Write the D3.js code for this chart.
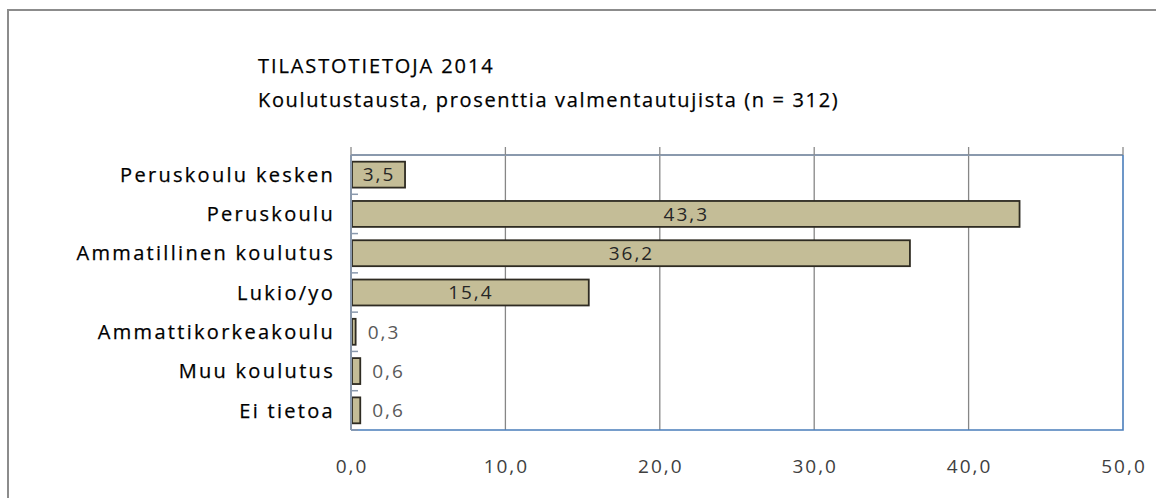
<!DOCTYPE html>
<html>
<head>
<meta charset="utf-8">
<script src="https://cdn.jsdelivr.net/npm/d3@7"></script>
<style>
  body { margin: 0; background: #fff; }
  text { font-family: "Open Sans", sans-serif; }
</style>
</head>
<body>
<div id="chart"></div>
<script>
// Chart data
const categories = ["Peruskoulu kesken", "Peruskoulu", "Ammatillinen koulutus", "Lukio/yo",
  "Ammattikorkeakoulu", "Muu koulutus", "Ei tietoa"];
const values = [3.5, 43.3, 36.2, 15.4, 0.3, 0.6, 0.6];
const xTicks = [0, 10, 20, 30, 40, 50];
const titleLines = ["TILASTOTIETOJA 2014", "Koulutustausta, prosenttia valmentautujista (n = 312)"];

const width = 1156, height = 498;
const margin = { top: 155, right: 33, bottom: 68, left: 351 };
const chartWidth = width - margin.left - margin.right;
const chartHeight = height - margin.top - margin.bottom;

const fmt = v => v.toFixed(1).replace(".", ",");

const svg = d3.select("#chart")
  .append("svg")
  .attr("width", width)
  .attr("height", height);

// outer frame
svg.append("path")
  .attr("d", `M8,${height + 2}V10H${width + 2}`)
  .attr("fill", "none")
  .attr("stroke", "#8c8c8c")
  .attr("stroke-width", 2);

// titles
svg.selectAll(".title")
  .data(titleLines)
  .enter().append("text")
  .attr("class", "title")
  .attr("x", 258)
  .attr("y", (d, i) => 73 + i * 34)
  .attr("font-size", 20)
  .attr("letter-spacing", (d, i) => i === 0 ? 1.9 : 1.65)
  .attr("fill", "#000")
  .attr("stroke", "#000")
  .attr("stroke-width", 0.25)
  .text(d => d);

const chart = svg.append("g")
  .attr("transform", `translate(${margin.left}, ${margin.top})`);

const xScale = d3.scaleLinear().domain([0, 50]).range([0, chartWidth]);
const yScale = d3.scaleBand().domain(categories).range([0, chartHeight]).paddingInner(0.34).paddingOuter(0.17);

// vertical gridlines
chart.append("g")
  .selectAll("line")
  .data(xTicks.slice(1, -1))
  .enter().append("line")
  .attr("x1", d => xScale(d)).attr("x2", d => xScale(d))
  .attr("y1", 0).attr("y2", chartHeight)
  .attr("stroke", "#868686")
  .attr("stroke-width", 1.3);

// top edge and small protruding ticks at top
chart.append("line")
  .attr("x1", 0).attr("x2", chartWidth).attr("y1", 0).attr("y2", 0)
  .attr("stroke", "#8a99ad").attr("stroke-width", 2);
chart.append("g")
  .selectAll("line")
  .data(xTicks)
  .enter().append("line")
  .attr("x1", d => xScale(d)).attr("x2", d => xScale(d))
  .attr("y1", -8).attr("y2", 0)
  .attr("stroke", "#8a8a8a").attr("stroke-width", 1.3);

// right and bottom edges
chart.append("path")
  .attr("d", `M${chartWidth},0V${chartHeight}H0`)
  .attr("fill", "none")
  .attr("stroke", "#4a7ebb")
  .attr("stroke-width", 1.6);

// bars
chart.append("g")
  .selectAll("rect")
  .data(values)
  .enter().append("rect")
  .attr("x", 1)
  .attr("y", (d, i) => yScale(categories[i]))
  .attr("width", d => Math.max(xScale(d) - 1, 2))
  .attr("height", yScale.bandwidth())
  .attr("fill", "#c4bd97")
  .attr("stroke", "#2e2b22")
  .attr("stroke-width", 1.8);

// value labels
chart.append("g")
  .selectAll("text")
  .data(values)
  .enter().append("text")
  .attr("x", d => d >= 2 ? xScale(d) / 2 + 1 : xScale(d) + 12)
  .attr("y", (d, i) => yScale(categories[i]) + yScale.bandwidth() / 2)
  .attr("dy", "0.36em")
  .attr("text-anchor", d => d >= 2 ? "middle" : "start")
  .attr("font-size", 19)
  .attr("letter-spacing", 2)
  .attr("fill", d => d >= 2 ? "#262626" : "#595959")
  .text(d => fmt(d));

// left axis with category ticks
const yAxis = chart.append("g");
yAxis.append("line")
  .attr("x1", 0).attr("x2", 0).attr("y1", 0).attr("y2", chartHeight)
  .attr("stroke", "#8a99ad").attr("stroke-width", 2);
const step = chartHeight / categories.length;
yAxis.selectAll(".ytick")
  .data(d3.range(categories.length + 1))
  .enter().append("line")
  .attr("class", "ytick")
  .attr("x1", 0).attr("x2", 7)
  .attr("y1", i => i * step).attr("y2", i => i * step)
  .attr("stroke", "#8a99ad").attr("stroke-width", 1.5);

yAxis.selectAll(".ylabel")
  .data(categories)
  .enter().append("text")
  .attr("class", "ylabel")
  .attr("x", -16)
  .attr("y", d => yScale(d) + yScale.bandwidth() / 2)
  .attr("dy", "0.36em")
  .attr("text-anchor", "end")
  .attr("font-size", 20)
  .attr("letter-spacing", 2.3)
  .attr("fill", "#000")
  .attr("stroke", "#000")
  .attr("stroke-width", 0.25)
  .text(d => d);

// x tick labels
chart.append("g")
  .selectAll("text")
  .data(xTicks)
  .enter().append("text")
  .attr("x", d => xScale(d) + 1)
  .attr("y", chartHeight + 43)
  .attr("text-anchor", "middle")
  .attr("font-size", 19)
  .attr("letter-spacing", 2)
  .attr("fill", "#404040")
  .text(d => fmt(d));
</script>
</body>
</html>
